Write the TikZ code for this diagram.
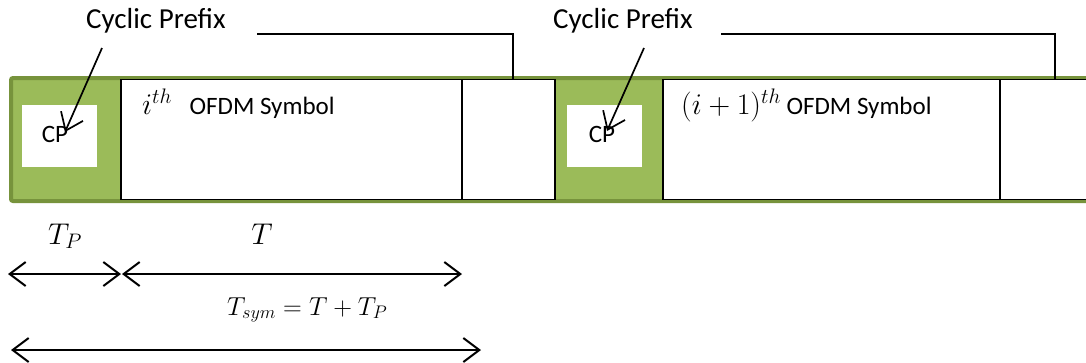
\RequirePackage{fix-cm}
\documentclass[tikz,border=0pt]{standalone}
\usepackage{fontspec}
\setmainfont{Carlito}
\usetikzlibrary{arrows.meta}
\definecolor{cpgreen}{HTML}{9BBB59}
\definecolor{cpdark}{HTML}{77933C}
\tikzset{
  band/.style={fill=cpgreen, draw=cpdark, line width=4pt, rounded corners=2pt},
  symbox/.style={draw=black, fill=white, line width=1.2pt},
  cpbox/.style={fill=white, draw=none},
  lbl/.style={inner sep=0pt, font=\fontsize{25}{28}\selectfont},
  biglbl/.style={inner sep=0pt, font=\fontsize{29}{32}\selectfont},
  leader/.style={draw=black, line width=1.3pt},
  pointer/.style={draw=black, line width=1.7pt, -{Straight Barb[length=16pt, width=24pt, line width=1.7pt]}},
  dim/.style={draw=black, line width=2pt, {Straight Barb[length=16pt, width=24pt, line width=2pt]}-{Straight Barb[length=16pt, width=24pt, line width=2pt]}}
}
\newcommand{\bigmath}[1]{{\fontsize{30}{30}\selectfont$#1$}}
\begin{document}
\begin{tikzpicture}[x=1pt, y=-1pt]
\useasboundingbox (0,0) rectangle (1086,362);
\clip (0,0) rectangle (1086,362);
% green band
\path[band] (11,78) rectangle (1110,201);
% CP boxes
\node[cpbox, minimum width=75pt, minimum height=62pt, inner sep=0pt] (cp1) at (59.5,136) {};
\node[cpbox, minimum width=75pt, minimum height=62pt, inner sep=0pt] (cp2) at (604.5,136) {};
\node[lbl, anchor=base] (cpt1) at (55,142) {CP};
\node[lbl, anchor=base] (cpt2) at (602,142) {CP};
% symbol boxes
\path[symbox] (121,79.5) rectangle (555,199.5);
\path[symbox] (663,79.5) rectangle (1110,199.5);
\coordinate (d1t) at (462,79.5); \coordinate (d1b) at (462,199.5);
\coordinate (d2t) at (1000,79.5); \coordinate (d2b) at (1000,199.5);
\draw[line width=1.2pt] (d1t) -- (d1b);
\draw[line width=1.2pt] (d2t) -- (d2b);
\node[lbl, anchor=base west] (s1) at (142,114) {\bigmath{i^{th}}\hspace{12pt} OFDM Symbol};
\node[lbl, anchor=base west] (s2) at (681,114) {\bigmath{(i+1)^{th}} OFDM Symbol};
% cyclic prefix labels
\node[biglbl, anchor=base west] (cyc1) at (86,28) {Cyclic Prefix};
\node[biglbl, anchor=base west] (cyc2) at (553,28) {Cyclic Prefix};
% leader lines
\coordinate (l1a) at (257,34); \coordinate (l1b) at (513,34); \coordinate (l1c) at (513,79.5);
\coordinate (l2a) at (721,34); \coordinate (l2b) at (1055,34); \coordinate (l2c) at (1055,79.5);
\path[leader] (l1a) -- (l1b) -- (l1c);
\path[leader] (l2a) -- (l2b) -- (l2c);
% pointers
\coordinate (p1s) at (102,48); \coordinate (p1e) at (65,132);
\coordinate (p2s) at (644,48); \coordinate (p2e) at (607,131);
\path[pointer] (p1s) -- (p1e);
\path[pointer] (p2s) -- (p2e);
% dimension arrows
\coordinate (a1l) at (8,274); \coordinate (a1r) at (121,274);
\coordinate (a2l) at (122,274); \coordinate (a2r) at (462,274);
\coordinate (a3l) at (11,350); \coordinate (a3r) at (481,350);
\path[dim] (a1l) -- (a1r);
\path[dim] (a2l) -- (a2r);
\path[dim] (a3l) -- (a3r);
\node[lbl, anchor=base] (tp) at (65,244) {\bigmath{T_P}};
\node[lbl, anchor=base] (tt) at (262,244) {\bigmath{T}};
\node[lbl, anchor=base west] (ts) at (227,315) {\fontsize{26}{28}\selectfont$T_{sym} = T + T_P$};
\end{tikzpicture}
\end{document}
